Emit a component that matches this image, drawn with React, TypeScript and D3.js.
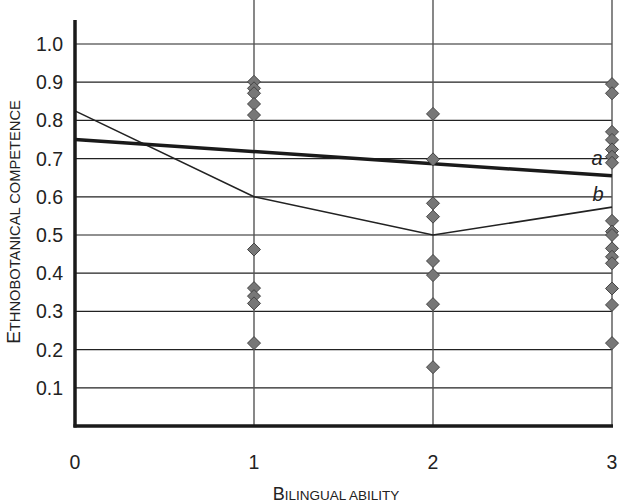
import React from "react";
import * as d3 from "d3";

const xTicks = [0, 1, 2, 3];
const yTicks = [0.1, 0.2, 0.3, 0.4, 0.5, 0.6, 0.7, 0.8, 0.9, 1.0];

const pointsX1 = [0.901, 0.884, 0.871, 0.843, 0.814, 0.462, 0.361, 0.34, 0.321, 0.217];
const pointsX2 = [0.817, 0.698, 0.583, 0.548, 0.432, 0.395, 0.319, 0.154];
const pointsX3 = [0.895, 0.871, 0.77, 0.749, 0.724, 0.705, 0.689, 0.537, 0.509, 0.5, 0.465, 0.443, 0.426, 0.36, 0.317, 0.217];

const lineAX = [0, 3];
const lineAY = [0.75, 0.655];
const lineBX = [0, 1, 2, 3];
const lineBY = [0.825, 0.6, 0.5, 0.573];

export default function App() {
  const W = 624, H = 503;
  const x = d3.scaleLinear().domain([0, 3]).range([75, 612]);
  const y = d3.scaleLinear().domain([0, 1]).range([426, 44]);
  const line = d3.line<[number, number]>().x(d => x(d[0])).y(d => y(d[1]));
  const aData: [number, number][] = lineAX.map((v, i) => [v, lineAY[i]]);
  const bData: [number, number][] = lineBX.map((v, i) => [v, lineBY[i]]);
  const groups: [number, number[]][] = [[1, pointsX1], [2, pointsX2], [3, pointsX3]];
  const font = "'Liberation Sans', Arial, Helvetica, sans-serif";
  const r = 6.5;
  const diamond = (cx: number, cy: number) => `M${cx},${cy - r}L${cx + r},${cy}L${cx},${cy + r}L${cx - r},${cy}Z`;
  return (
    <svg width={W} height={H} style={{ position: "absolute", left: 0, top: 0, background: "#fff" }} fontFamily={font}>
      {yTicks.map(t => (
        <line key={"g" + t} x1={x(0)} x2={x(3)} y1={y(t)} y2={y(t)} stroke="#222" strokeWidth={1.2} />
      ))}
      {xTicks.slice(1).map(t => (
        <line key={"v" + t} x1={x(t)} x2={x(t)} y1={0} y2={y(0)} stroke="#555" strokeWidth={1.4} />
      ))}
      <path d={line(bData) || ""} fill="none" stroke="#222" strokeWidth={1.6} />
      <path d={line(aData) || ""} fill="none" stroke="#1a1a1a" strokeWidth={3.5} />
      {groups.map(([gx, vals]) =>
        vals.map((v, i) => (
          <path key={gx + "-" + i} d={diamond(x(gx), y(v))} fill="#777" stroke="#444" strokeWidth={1} />
        ))
      )}
      <line x1={x(0)} x2={x(0)} y1={20} y2={y(0) + 1.5} stroke="#1a1a1a" strokeWidth={3.5} />
      <line x1={x(0) - 1.5} x2={x(3) + 1} y1={y(0)} y2={y(0)} stroke="#1a1a1a" strokeWidth={3.5} />
      {yTicks.map(t => (
        <text key={"yl" + t} x={63} y={y(t)} dy="0.36em" textAnchor="end" fontSize={19.5} fill="#222">{t.toFixed(1)}</text>
      ))}
      {xTicks.map(t => (
        <text key={"xl" + t} x={x(t)} y={469} textAnchor="middle" fontSize={19.5} fill="#222">{t}</text>
      ))}
      <text x={336} y={500} textAnchor="middle" fill="#222">
        <tspan fontSize={18}>B</tspan><tspan fontSize={13.5}>ILINGUAL ABILITY</tspan>
      </text>
      <text transform={`translate(20,222) rotate(-90)`} textAnchor="middle" fill="#222">
        <tspan fontSize={19}>E</tspan><tspan fontSize={14.7}>THNOBOTANICAL COMPETENCE</tspan>
      </text>
      <text x={597} y={165} textAnchor="middle" fontSize={20} fontStyle="italic" fill="#222">a</text>
      <text x={598} y={201} textAnchor="middle" fontSize={20} fontStyle="italic" fill="#222">b</text>
    </svg>
  );
}
